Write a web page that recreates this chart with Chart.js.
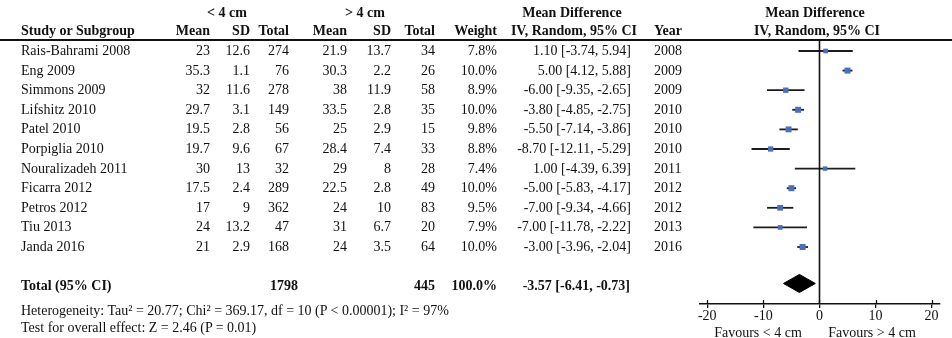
<!DOCTYPE html>
<html>
<head>
<meta charset="utf-8">
<script src="https://cdn.jsdelivr.net/npm/chart.js@4"></script>
<style>
  html, body { margin: 0; padding: 0; background: #fff; }
  #wrap { position: relative; width: 952px; height: 338px; overflow: hidden;
          font-family: "Liberation Serif", "Times New Roman", serif; color: #111; }
  #wrap canvas { position: absolute; left: 0; top: 0; }
  .t { position: absolute; white-space: nowrap; line-height: 1; font-size: 14px; }
  .r { transform: translate(-100%, -50%); }
  .l { transform: translate(0, -50%); }
  .c { transform: translate(-50%, -50%); }
  .b { font-weight: bold; }
</style>
</head>
<body>
<div id="wrap"><canvas id="forest" width="952" height="338"></canvas></div>
<script>
// ---- study data ----
const studies = ['Rais-Bahrami 2008', 'Eng 2009', 'Simmons 2009', 'Lifshitz 2010', 'Patel 2010',
  'Porpiglia 2010', 'Nouralizadeh 2011', 'Ficarra 2012', 'Petros 2012', 'Tiu 2013', 'Janda 2016'];
const smallMean = [23, 35.3, 32, 29.7, 19.5, 19.7, 30, 17.5, 17, 24, 21];
const smallSD   = [12.6, 1.1, 11.6, 3.1, 2.8, 9.6, 13, 2.4, 9, 13.2, 2.9];
const smallN    = [274, 76, 278, 149, 56, 67, 32, 289, 362, 47, 168];
const largeMean = [21.9, 30.3, 38, 33.5, 25, 28.4, 29, 22.5, 24, 31, 24];
const largeSD   = [13.7, 2.2, 11.9, 2.8, 2.9, 7.4, 8, 2.8, 10, 6.7, 3.5];
const largeN    = [34, 26, 58, 35, 15, 33, 28, 49, 83, 20, 64];
const weights   = [7.8, 10.0, 8.9, 10.0, 9.8, 8.8, 7.4, 10.0, 9.5, 7.9, 10.0];
const meanDiff  = [1.10, 5.00, -6.00, -3.80, -5.50, -8.70, 1.00, -5.00, -7.00, -7.00, -3.00];
const ciLow     = [-3.74, 4.12, -9.35, -4.85, -7.14, -12.11, -4.39, -5.83, -9.34, -11.78, -3.96];
const ciHigh    = [5.94, 5.88, -2.65, -2.75, -3.86, -5.29, 6.39, -4.17, -4.66, -2.22, -2.04];
const years     = [2008, 2009, 2009, 2010, 2010, 2010, 2011, 2012, 2012, 2013, 2016];

// ---- pooled estimate ----
const totalSmallN = 1798;
const totalLargeN = 445;
const totalWeight = 100.0;
const pooledMD = -3.57;
const pooledLow = -6.41;
const pooledHigh = -0.73;

// ---- axis ----
const tickValues = [-20, -10, 0, 10, 20];
const tickLabels = ['-20', '-10', '0', '10', '20'];

const heterogeneityText = 'Heterogeneity: Tau\u00B2 = 20.77; Chi\u00B2 = 369.17, df = 10 (P < 0.00001); I\u00B2 = 97%';
const overallText = 'Test for overall effect: Z = 2.46 (P = 0.01)';
const favourLeft = 'Favours < 4 cm';
const favourRight = 'Favours > 4 cm';

const totalRow = studies.length + 1;   // one blank row before the total
const INK = '#111';
const FONT = '"Liberation Serif", "Times New Roman", serif';

// CI whiskers, one short line per study
const whiskerSets = studies.map((s, i) => ({
  type: 'scatter',
  showLine: true,
  data: [{ x: ciLow[i], y: i }, { x: ciHigh[i], y: i }],
  borderColor: '#1c1c1c',
  borderWidth: 1.8,
  pointRadius: 0,
  order: 2
}));

// Study estimates, square size follows the weight
const pointSet = {
  type: 'scatter',
  data: meanDiff.map((v, i) => ({ x: v, y: i })),
  pointStyle: 'rect',
  pointRadius: ctx => weights[ctx.dataIndex] * 0.6 / Math.SQRT2,
  backgroundColor: '#4a6fc0',
  borderWidth: 0,
  order: 1
};

// Pooled diamond
const dh = 0.46;
const dy = totalRow - 0.14;
const diamondSet = {
  type: 'scatter',
  showLine: true,
  data: [
    { x: pooledLow, y: dy }, { x: pooledMD, y: dy - dh },
    { x: pooledHigh, y: dy }, { x: pooledMD, y: dy + dh }, { x: pooledLow, y: dy }
  ],
  fill: 'shape',
  backgroundColor: '#000',
  borderColor: '#000',
  borderWidth: 1,
  pointRadius: 0,
  tension: 0,
  order: 3
};

// Header rule, null line and two-sided tick marks
const decor = {
  id: 'decor',
  afterDraw(chart) {
    const { ctx, chartArea, scales: { x } } = chart;
    ctx.save();
    ctx.strokeStyle = INK;
    ctx.lineWidth = 2;
    ctx.beginPath();
    ctx.moveTo(0, chartArea.top);
    ctx.lineTo(chart.width, chartArea.top);
    ctx.stroke();
    const x0 = Math.round(x.getPixelForValue(0)) + 0.5;
    ctx.lineWidth = 1.6;
    ctx.beginPath();
    ctx.moveTo(x0, chartArea.top);
    ctx.lineTo(x0, chartArea.bottom);
    ctx.stroke();
    ctx.lineWidth = 1.3;
    tickValues.forEach(v => {
      const px = Math.round(x.getPixelForValue(v)) + 0.5;
      ctx.beginPath();
      ctx.moveTo(px, chartArea.bottom - 4);
      ctx.lineTo(px, chartArea.bottom);
      ctx.stroke();
    });
    ctx.restore();
  }
};

const chart = new Chart(document.getElementById('forest'), {
  type: 'scatter',
  data: { datasets: [pointSet, ...whiskerSets, diamondSet] },
  options: {
    responsive: false,
    animation: false,
    events: [],
    layout: { padding: { left: 700, right: 12, top: 40, bottom: 0 } },
    plugins: { legend: { display: false }, tooltip: { enabled: false } },
    scales: {
      x: {
        type: 'linear',
        min: -21.3,
        max: 21.5,
        afterBuildTicks: s => { s.ticks = tickValues.map(v => ({ value: v })); },
        afterFit: s => { s.height = 34; },
        grid: { drawOnChartArea: false, drawTicks: true, tickLength: 4, color: INK, lineWidth: 1.3 },
        border: { display: true, color: INK, width: 1.5 },
        ticks: {
          autoSkip: false,
          maxRotation: 0,
          padding: 0,
          color: INK,
          font: { family: FONT, size: 14 },
          callback: (v, i) => tickLabels[i]
        }
      },
      y: {
        type: 'linear',
        display: false,
        reverse: true,
        min: -0.561,
        max: 12.908
      }
    }
  },
  plugins: [decor]
});

// ---- table text, rows placed with the chart's own y scale ----
const wrap = document.getElementById('wrap');
function put(text, x, y, align, bold) {
  const d = document.createElement('div');
  d.className = 't ' + align + (bold ? ' b' : '');
  d.textContent = text;
  d.style.left = x + 'px';
  d.style.top = y + 'px';
  wrap.appendChild(d);
}
const yScale = chart.scales.y;
const rowY = r => yScale.getPixelForValue(r);

// headers
put('< 4 cm', 227, 13, 'c', true);
put('> 4 cm', 365, 13, 'c', true);
put('Mean Difference', 572, 13, 'c', true);
put('Mean Difference', 815, 13, 'c', true);
const h2 = 31;
put('Study or Subgroup', 21, h2, 'l', true);
put('Mean', 210, h2, 'r', true);
put('SD', 250, h2, 'r', true);
put('Total', 289, h2, 'r', true);
put('Mean', 347, h2, 'r', true);
put('SD', 391, h2, 'r', true);
put('Total', 435, h2, 'r', true);
put('Weight', 497, h2, 'r', true);
put('IV, Random, 95% CI', 574, h2, 'c', true);
put('Year', 654, h2, 'l', true);
put('IV, Random, 95% CI', 817, h2, 'c', true);

// study rows
studies.forEach((name, i) => {
  const y = rowY(i);
  put(name, 21, y, 'l');
  put(String(smallMean[i]), 210, y, 'r');
  put(String(smallSD[i]), 250, y, 'r');
  put(String(smallN[i]), 289, y, 'r');
  put(String(largeMean[i]), 347, y, 'r');
  put(String(largeSD[i]), 391, y, 'r');
  put(String(largeN[i]), 435, y, 'r');
  put(weights[i].toFixed(1) + '%', 497, y, 'r');
  put(meanDiff[i].toFixed(2) + ' [' + ciLow[i].toFixed(2) + ', ' + ciHigh[i].toFixed(2) + ']', 631, y, 'r');
  put(String(years[i]), 654, y, 'l');
});

// total row
const ty = rowY(totalRow);
put('Total (95% CI)', 21, ty, 'l', true);
put(String(totalSmallN), 298, ty, 'r', true);
put(String(totalLargeN), 435, ty, 'r', true);
put(totalWeight.toFixed(1) + '%', 497, ty, 'r', true);
put(pooledMD.toFixed(2) + ' [' + pooledLow.toFixed(2) + ', ' + pooledHigh.toFixed(2) + ']', 630, ty, 'r', true);

// footnotes
put(heterogeneityText, 21, 311, 'l');
put(overallText, 21, 328, 'l');

// favour labels under the axis
put(favourLeft, 758, 333, 'c');
put(favourRight, 872, 333, 'c');
</script>
</body>
</html>
